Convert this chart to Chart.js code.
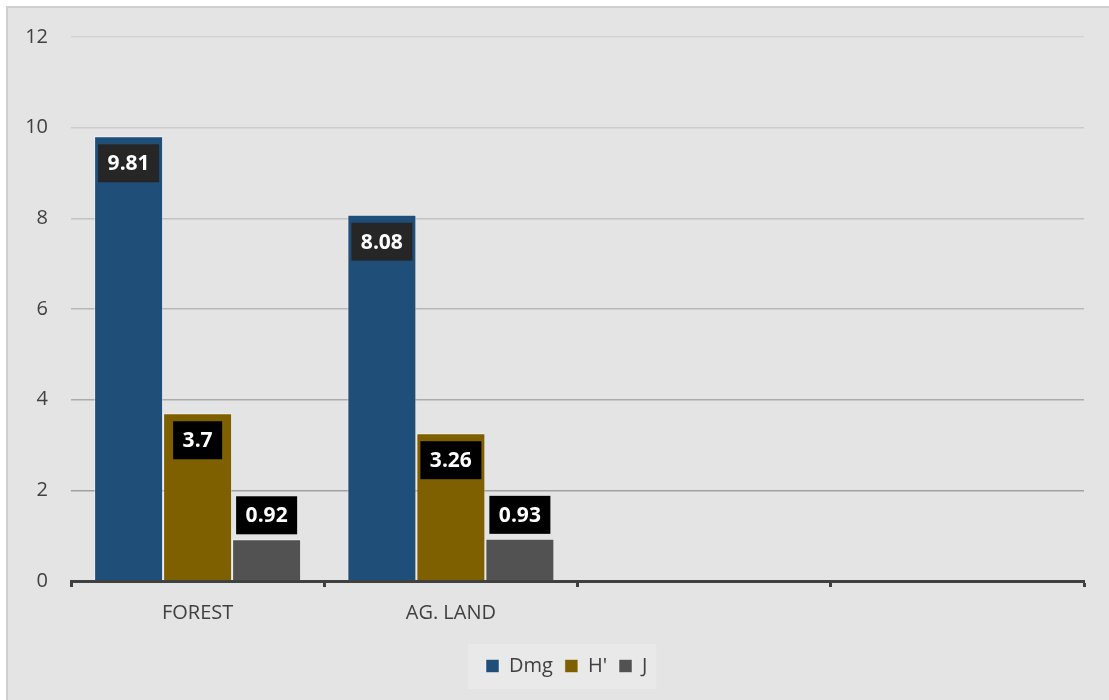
<!DOCTYPE html>
<html><head><meta charset="utf-8">
<script src="https://cdn.jsdelivr.net/npm/chart.js@4/dist/chart.umd.min.js"></script>
<style>html,body{margin:0;padding:0;background:#fff;overflow:hidden}#wrap{position:absolute;left:0;top:0;width:1109px;height:700px}</style>
</head><body><div id="wrap"><canvas id="c" width="1109" height="700"></canvas></div>
<script>
const categories = ['FOREST', 'AG. LAND', '', ''];
const seriesNames = ['Dmg', "H'", 'J'];
const dmgValues = [9.81, 8.08, null, null];
const hValues = [3.7, 3.26, null, null];
const jValues = [0.92, 0.93, null, null];
const yTickValues = [0, 2, 4, 6, 8, 10, 12];

const barColors = ['#1f4e79', '#7f6000', '#525252'];
const labelBoxColors = ['#262626', '#000000', '#000000'];
const gridColors = {0: 'rgba(0,0,0,0)', 2: '#a0a0a0', 4: '#ababab', 6: '#b7b7b7', 8: '#c2c2c2', 10: '#cbcbcb', 12: '#d3d3d3'};

const legendShiftPlugin = {
  id: 'legendShift',
  afterUpdate(chart) {
    const lg = chart.legend;
    if (!lg || !lg.legendHitBoxes || !lg.legendHitBoxes.length) return;
    const dx = 486 - lg.legendHitBoxes[0].left;
    lg.left += dx; lg.right += dx;
    lg.legendHitBoxes.forEach(b => { b.left += dx; });
  }
};

const framePlugin = {
  id: 'frame',
  beforeDraw(chart) {
    const ctx = chart.ctx;
    ctx.save();
    ctx.fillStyle = '#ffffff';
    ctx.fillRect(0, 0, chart.width, chart.height);
    ctx.fillStyle = '#e4e4e4';
    ctx.fillRect(7, 7, chart.width - 7, chart.height - 7);
    ctx.strokeStyle = '#cfcfcf';
    ctx.lineWidth = 2;
    ctx.beginPath();
    ctx.moveTo(7, chart.height);
    ctx.lineTo(7, 7);
    ctx.lineTo(chart.width, 7);
    ctx.stroke();
    const lg = chart.legend;
    if (lg && lg.legendHitBoxes && lg.legendHitBoxes.length) {
      const hb = lg.legendHitBoxes;
      const l = Math.min(...hb.map(b => b.left)) - 18;
      const r = Math.max(...hb.map(b => b.left + b.width)) + 9;
      const cy = hb[0].top + hb[0].height / 2;
      ctx.fillStyle = '#e9e9e9';
      ctx.fillRect(l, cy - 22, r - l, 45);
    }
    ctx.restore();
  }
};

const labelPlugin = {
  id: 'barLabels',
  afterDatasetsDraw(chart) {
    const ctx = chart.ctx;
    ctx.save();
    ctx.font = 'bold 21px "Open Sans"';
    ctx.textAlign = 'center';
    ctx.textBaseline = 'middle';
    chart.data.datasets.forEach((ds, di) => {
      const meta = chart.getDatasetMeta(di);
      meta.data.forEach((bar, i) => {
        const v = ds.data[i];
        if (v === null || v === undefined) return;
        const txt = String(v);
        const w = ctx.measureText(txt).width + 19;
        const h = 38;
        const barH = bar.base - bar.y;
        let top;
        if (barH >= h + 14) top = bar.y + 8; else top = bar.y - 5 - h;
        ctx.fillStyle = labelBoxColors[di];
        ctx.fillRect(bar.x - w / 2, top, w, h);
        ctx.fillStyle = '#ffffff';
        ctx.fillText(txt, bar.x, top + h / 2 + 1);
      });
    });
    ctx.restore();
  }
};

new Chart(document.getElementById('c'), {
  type: 'bar',
  data: {
    labels: categories,
    datasets: [
      {label: seriesNames[0], data: dmgValues, backgroundColor: barColors[0], borderColor: 'rgba(255,255,255,0.45)', borderWidth: 1},
      {label: seriesNames[1], data: hValues, backgroundColor: barColors[1], borderColor: 'rgba(255,255,255,0.45)', borderWidth: 1},
      {label: seriesNames[2], data: jValues, backgroundColor: barColors[2], borderColor: 'rgba(255,255,255,0.45)', borderWidth: 1}
    ]
  },
  options: {
    responsive: false,
    animation: false,
    devicePixelRatio: 1,
    layout: {padding: {left: 0, right: 25, top: 37, bottom: 14}},
    datasets: {bar: {categoryPercentage: 0.8174, barPercentage: 1.0}},
    plugins: {
      legend: {
        position: 'bottom',
        labels: {boxWidth: 13, boxHeight: 13, color: '#404040', font: {family: '"Open Sans"', size: 20}, padding: 12}
      },
      tooltip: {enabled: false}
    },
    scales: {
      x: {
        offset: true,
        afterFit(scale) { scale.height += 5; },
        border: {display: true, color: '#404040', width: 3},
        grid: {display: true, drawOnChartArea: false, drawTicks: true, tickLength: 6, tickColor: '#404040', tickWidth: 3, offset: true},
        ticks: {color: '#404040', font: {family: '"Open Sans"', size: 20}, padding: 14}
      },
      y: {
        min: 0, max: 12,
        afterFit(scale) { scale.width = 71; },
        afterBuildTicks(scale) { scale.ticks = yTickValues.map(v => ({value: v})); },
        border: {display: false},
        grid: {drawTicks: false, lineWidth: 1.5, color: ctx => gridColors[ctx.tick.value] || '#b5b5b5'},
        ticks: {color: '#404040', font: {family: '"Open Sans"', size: 20}, padding: 23}
      }
    }
  },
  plugins: [legendShiftPlugin, framePlugin, labelPlugin]
});
</script>
</body></html>
